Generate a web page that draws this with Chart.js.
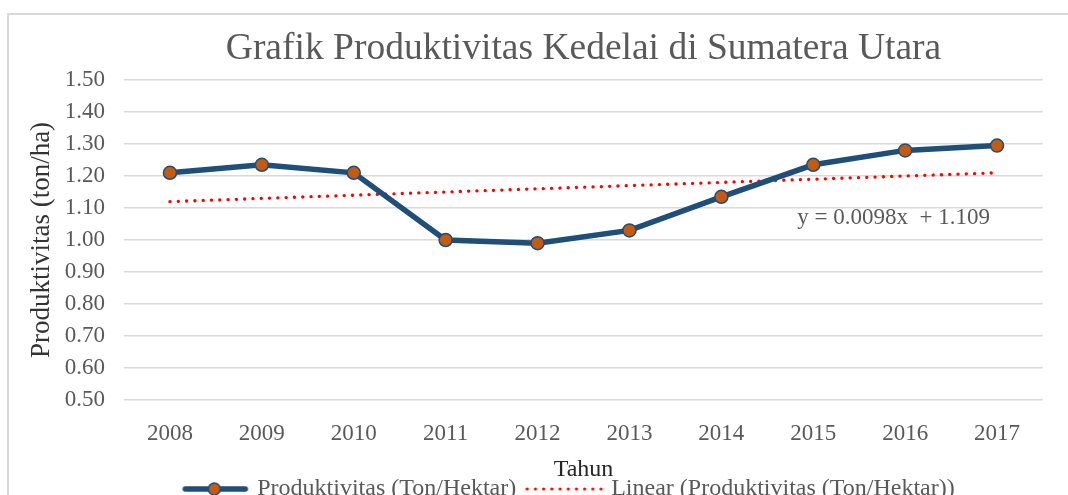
<!DOCTYPE html>
<html lang="id">
<head>
  <meta charset="UTF-8">
  <title>Grafik Produktivitas Kedelai di Sumatera Utara</title>
  <script src="https://cdn.jsdelivr.net/npm/chart.js"></script>
  <style>
    html, body {
      margin: 0;
      padding: 0;
      overflow: hidden;
      background: #ffffff;
    }
    #box {
      position: absolute;
      left: 7px;
      top: 13px;
      width: 1122px;
      height: 496px;
      border: 2px solid #d9d9d9;
    }
  </style>
</head>
<body>
  <div id="box"><canvas id="chart"></canvas></div>

  <script>
    // Data
    const tahun = ['2008', '2009', '2010', '2011', '2012', '2013', '2014', '2015', '2016', '2017'];
    const produktivitas = [1.21, 1.235, 1.21, 1.00, 0.99, 1.03, 1.135, 1.235, 1.28, 1.295];
    const linear = [1.12, 1.13, 1.14, 1.15, 1.16, 1.17, 1.18, 1.19, 1.20, 1.21];
    const yTicks = [0.5, 0.6, 0.7, 0.8, 0.9, 1.0, 1.1, 1.2, 1.3, 1.4, 1.5];
    const persamaan = 'y = 0.0098x  + 1.109';

    const serif = 'Liberation Serif';
    const grey = '#595959';
    const blue = '#1f4e79';
    const orange = '#c55a11';

    // gambar kecil untuk simbol legenda
    function markerLine() {
      const c = document.createElement('canvas');
      c.width = 68; c.height = 16;
      const g = c.getContext('2d');
      g.strokeStyle = blue;
      g.lineWidth = 5.5;
      g.lineCap = 'round';
      g.beginPath(); g.moveTo(4, 8); g.lineTo(64, 8); g.stroke();
      g.beginPath(); g.arc(33, 8, 6, 0, Math.PI * 2);
      g.fillStyle = orange; g.fill();
      g.lineWidth = 1.5; g.stroke();
      return c;
    }
    function markerDots() {
      const c = document.createElement('canvas');
      c.width = 88; c.height = 16;
      const g = c.getContext('2d');
      g.fillStyle = '#ff0000';
      for (let x = 2; x < 76; x += 8.2) {
        g.beginPath(); g.arc(x, 8, 1.6, 0, Math.PI * 2); g.fill();
      }
      return c;
    }
    const markers = [markerLine(), markerDots()];

    const equationLabel = {
      id: 'equationLabel',
      afterDatasetsDraw(chart) {
        const {ctx, scales} = chart;
        ctx.save();
        ctx.font = '23px "' + serif + '"';
        ctx.fillStyle = grey;
        ctx.textAlign = 'left';
        ctx.textBaseline = 'middle';
        ctx.fillText(persamaan, scales.x.getPixelForValue(7) - 16, scales.y.getPixelForValue(1.07));
        ctx.restore();
      }
    };

    new Chart(document.getElementById('chart'), {
      type: 'line',
      data: {
        labels: tahun,
        datasets: [{
          label: 'Produktivitas (Ton/Hektar)',
          data: produktivitas,
          borderColor: blue,
          borderWidth: 5.5,
          backgroundColor: orange,
          pointBackgroundColor: orange,
          pointBorderColor: blue,
          pointBorderWidth: 1.5,
          pointRadius: 6.5,
          pointHoverRadius: 6.5,
          tension: 0,
          order: 1
        }, {
          label: 'Linear (Produktivitas (Ton/Hektar))',
          data: linear,
          borderColor: '#ff0000',
          borderWidth: 3.3,
          borderDash: [0.1, 8.2],
          borderCapStyle: 'round',
          pointRadius: 0,
          pointHoverRadius: 0,
          fill: false,
          tension: 0,
          order: 2
        }]
      },
      options: {
        responsive: true,
        maintainAspectRatio: false,
        animation: false,
        layout: { padding: 0 },
        plugins: {
          title: {
            display: true,
            fullSize: false,
            text: 'Grafik Produktivitas Kedelai di Sumatera Utara',
            color: grey,
            font: { family: serif, size: 37.5, weight: 'normal', lineHeight: 1.2 },
            padding: { top: 12, bottom: 8 }
          },
          legend: {
            position: 'bottom',
            labels: {
              usePointStyle: true,
              pointStyleWidth: 60,
              padding: 23,
              color: grey,
              font: { family: serif, size: 24 },
              generateLabels(chart) {
                const items = Chart.defaults.plugins.legend.labels.generateLabels(chart);
                items.forEach((it, i) => { it.pointStyle = markers[i]; });
                return items;
              }
            }
          },
          tooltip: { enabled: false }
        },
        scales: {
          x: {
            offset: true,
            grid: { display: false },
            border: { display: false },
            ticks: {
              color: grey,
              padding: 12,
              font: { family: serif, size: 23 }
            },
            title: {
              display: true,
              text: 'Tahun',
              color: '#262626',
              font: { family: serif, size: 24, lineHeight: 1 },
              padding: { top: 0, bottom: -28 }
            },
            afterFit(s) { s.height = 54; }
          },
          y: {
            min: 0.5,
            max: 1.5,
            afterBuildTicks(s) { s.ticks = yTicks.map(v => ({ value: v })); },
            grid: { color: '#d9d9d9', lineWidth: 1.5, drawTicks: false },
            border: { display: false },
            ticks: {
              color: grey,
              padding: 19,
              font: { family: serif, size: 23 },
              callback: v => Number(v).toFixed(2)
            },
            title: {
              display: true,
              text: 'Produktivitas (ton/ha)',
              color: '#333333',
              font: { family: serif, size: 27, lineHeight: 1 },
              padding: { top: 19.5, bottom: 0 }
            },
            afterFit(s) { s.width = 115; }
          },
          // ruang kosong di kanan area grafik
          kanan: {
            position: 'right',
            display: true,
            grid: { display: false },
            border: { display: false },
            ticks: { display: false },
            afterFit(s) { s.width = 88; }
          }
        }
      },
      plugins: [equationLabel]
    });
  </script>
</body>
</html>
